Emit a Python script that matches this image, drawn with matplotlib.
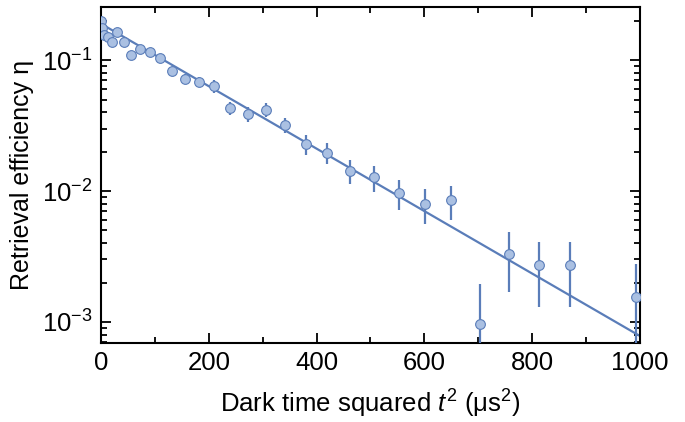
import matplotlib
matplotlib.use("Agg")
import matplotlib.pyplot as plt
from matplotlib.ticker import LogLocator, MultipleLocator

plt.rcParams["font.family"] = ["Liberation Sans", "DejaVu Sans"]
plt.rcParams["mathtext.fontset"] = "custom"
plt.rcParams["mathtext.rm"] = "Liberation Sans"
plt.rcParams["mathtext.it"] = "Liberation Sans:italic"

# dark time squared (us^2)
t2 = [0.25, 2.25, 6.25, 12.25, 20.25, 30.25, 42.25, 56.25, 72.25, 90.25,
      110.25, 132.25, 156.25, 182.25, 210.25, 240.25, 272.25, 306.25, 342.25, 380.25,
      420.25, 462.25, 506.25, 552.25, 600.25, 650.25, 702.25, 756.25, 812.25, 870.25,
      992.25]
# retrieval efficiency
eta = [0.20, 0.175, 0.155, 0.15, 0.138, 0.163, 0.138, 0.11, 0.121, 0.115,
       0.104, 0.082, 0.072, 0.068, 0.063, 0.043, 0.039, 0.042, 0.032, 0.0227,
       0.0197, 0.0143, 0.0127, 0.0097, 0.0080, 0.0085, 0.00096, 0.0033, 0.0027, 0.0027,
       0.00155]
eta_err = [0.012, 0.01, 0.01, 0.01, 0.008, 0.008, 0.008, 0.006, 0.006, 0.006,
           0.006, 0.006, 0.006, 0.006, 0.007, 0.0047, 0.005, 0.005, 0.0043, 0.004,
           0.0037, 0.003, 0.0028, 0.0025, 0.0024, 0.0025, 0.001, 0.0016, 0.0014, 0.0014,
           0.0012]

# gaussian fit, straight on log scale
fit_x = [0, 1000]
fit_y = [0.19, 0.00078]

col = "#5a7db9"
fill = "#aac0e2"

fig = plt.figure(figsize=(6.85, 4.22), dpi=100)
ax = fig.add_axes([0.1474, 0.1872, 0.7869, 0.7962])

ax.plot(fit_x, fit_y, color=col, lw=1.6, zorder=2)
ax.errorbar(t2, eta, yerr=eta_err, fmt="o", ms=7, mfc=fill, mec=col, mew=0.8,
            ecolor=col, elinewidth=1.6, capsize=0, zorder=3)

ax.set_yscale("log")
ax.set_xlim(0, 1000)
ax.set_ylim(6.9e-4, 0.255)
ax.xaxis.set_major_locator(MultipleLocator(200))
ax.xaxis.set_minor_locator(MultipleLocator(100))
ax.yaxis.set_major_locator(LogLocator(base=10, numticks=10))
ax.yaxis.set_minor_locator(LogLocator(base=10, subs=range(2, 10), numticks=20))

ax.tick_params(which="both", direction="in", top=True, right=True, width=1.3,
               labelsize=18.5, colors="black")
ax.tick_params(which="major", length=7, pad=6)
ax.tick_params(which="minor", length=4)
for s in ax.spines.values():
    s.set_linewidth(1.5)

ax.set_xlabel("Dark time squared $t^2$ (μs$^2$)", fontsize=18.5, labelpad=9)
ax.set_ylabel("Retrieval efficiency η", fontsize=18, labelpad=6)

fig.savefig("out.png", dpi=100)
